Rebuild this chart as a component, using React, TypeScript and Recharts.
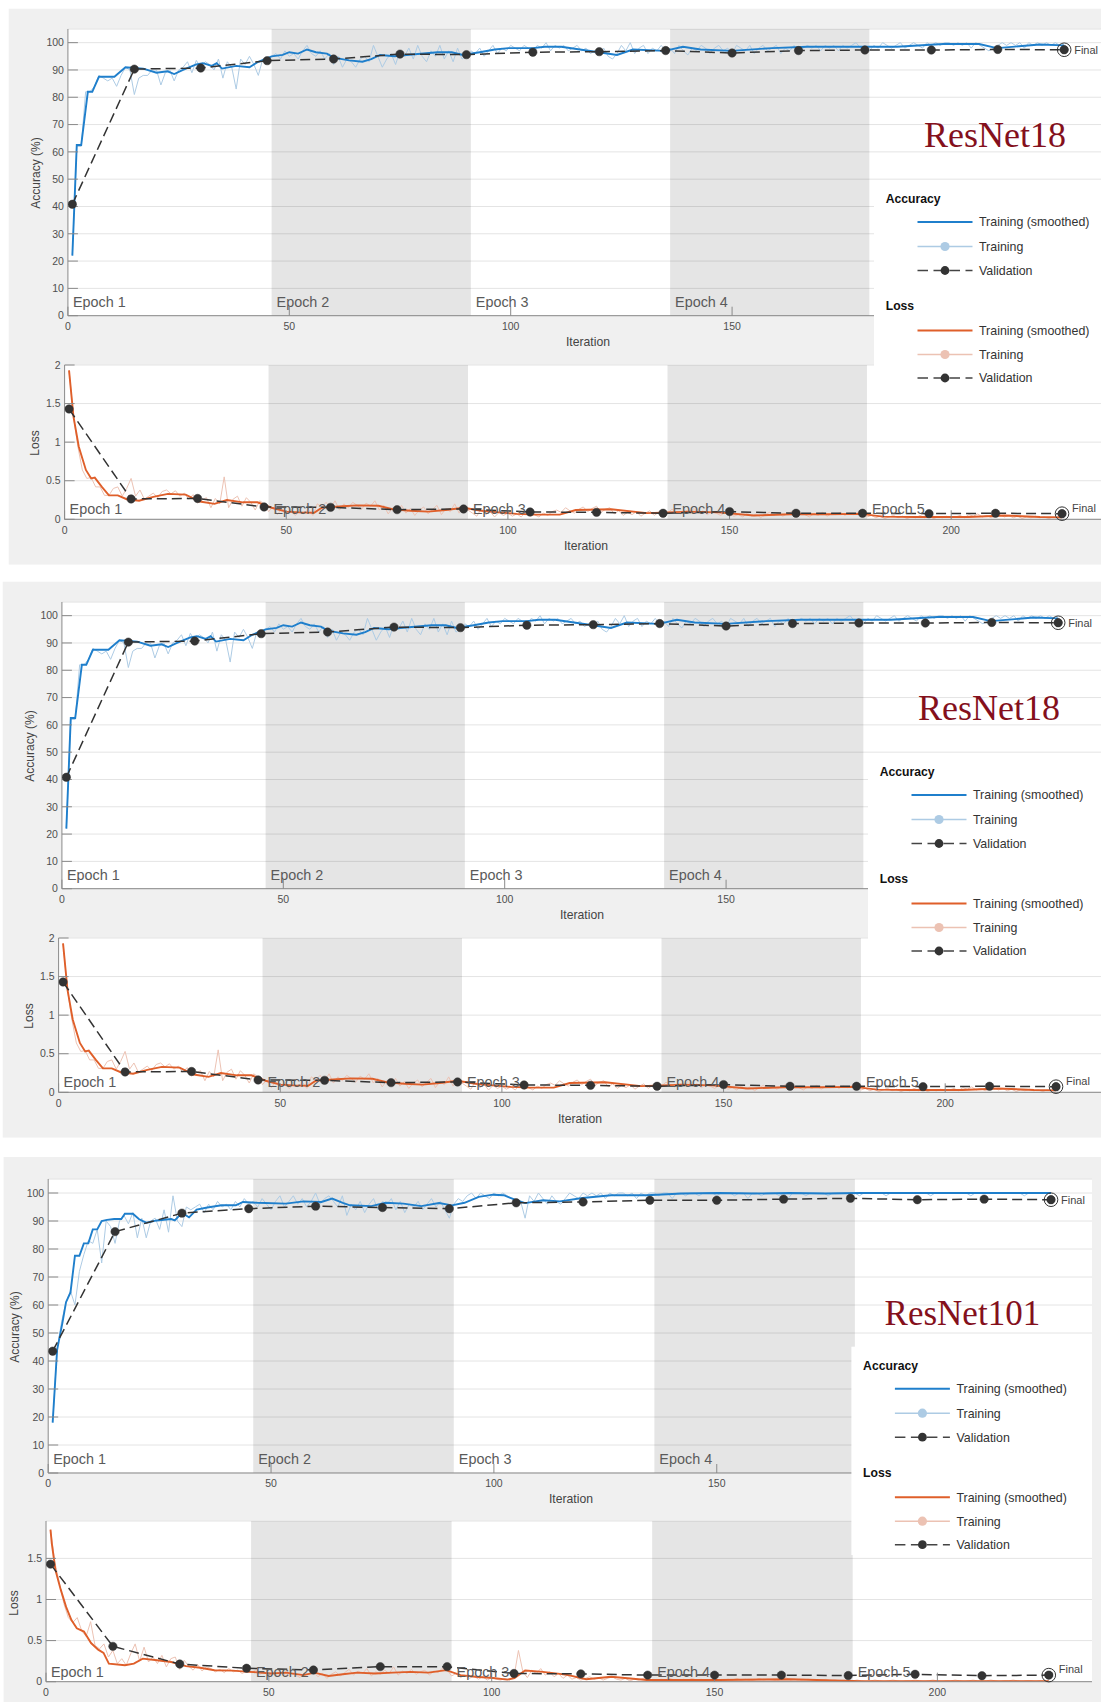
import React from 'react';
import { LineChart, Line, XAxis, YAxis, CartesianGrid, ReferenceArea, ReferenceDot } from 'recharts';

const FONT = '"Liberation Sans", Arial, Helvetica, sans-serif';
const SERIF = '"Liberation Serif", "Times New Roman", serif';

// ---------- categories / ticks / labels ----------
const VAL_ITERS = [1, 15, 30, 45, 60, 75, 90, 105, 120, 135, 150, 165, 180, 195, 210, 225];
const EPOCH_STARTS = [0, 46, 91, 136, 181];
const EPOCH_LABELS = ['Epoch 1', 'Epoch 2', 'Epoch 3', 'Epoch 4', 'Epoch 5'];
const SHADED_EPOCHS = [[46, 91], [136, 181]];
const X_TICKS = [0, 50, 100, 150, 200];
const ACC_TICKS = [0, 10, 20, 30, 40, 50, 60, 70, 80, 90, 100];
const LOSS_TICKS = [0, 0.5, 1, 1.5, 2];
const LOSS_TICKS_101 = [0, 0.5, 1, 1.5];
const TITLES = ['ResNet18', 'ResNet18', 'ResNet101'];
const LEGEND_GROUPS = ['Accuracy', 'Loss'];
const LEGEND_ITEMS = ['Training (smoothed)', 'Training', 'Validation'];
const FINAL_LABEL = 'Final';
const X_LABEL = 'Iteration';
const Y_LABELS = ['Accuracy (%)', 'Loss'];

// ---------- ResNet18 ----------
const ACC18_RAW = [
  22, 62, 62, 82, 82, 84, 88, 87, 86, 87, 84, 88, 91, 90, 81,
  87, 88, 88, 90, 90, 84.5, 89, 90, 86, 90, 91, 93, 89, 93.5, 91,
  93, 92, 90, 94, 87, 93, 91, 83, 94, 92, 95, 92, 88, 94, 93,
  95, 96, 94, 97, 95, 96, 94, 97, 99, 96, 95, 97, 94, 96, 92,
  95, 91, 94, 93, 91, 94, 95, 93, 99, 95, 91, 94, 96, 92, 97,
  95, 98, 94, 99, 95, 93, 97, 95, 99, 94, 97, 93, 98, 94, 95,
  97, 96, 98, 95, 97, 99, 96, 98, 97, 99, 98, 97, 99, 98, 96,
  99, 98, 100, 97, 99, 98, 99, 97, 98, 99, 97, 98, 96, 97, 96,
  98, 95, 94, 96, 99, 97, 100, 96, 98, 99, 96, 98, 97, 99, 97,
  98, 96, 99, 97, 95.5, 98, 97, 99, 98, 96, 98, 99, 97, 98, 96,
  99, 98, 97, 99, 96, 98, 99, 97, 98, 99, 96, 98, 97, 99, 95.5,
  98, 99, 98, 99, 97, 99, 98, 99, 97, 99, 98, 99, 100, 98, 99,
  97, 99, 98, 100, 99, 98, 99, 100, 98, 99, 100, 99, 98, 100, 99,
  100, 99, 100, 100, 99, 100, 99, 100, 98, 100, 99, 98, 97, 98, 99,
  100, 99, 100, 99, 100, 98, 100, 99, 100, 99, 100, 99, 100, 99, 99,
];
const ACC18_SMOOTH = [
  [1, 22], [2, 62.5], [3, 62.5], [4.5, 82], [5.5, 82], [7, 87.5], [10.5, 87.5], [13, 91], [17, 90.5],
  [20, 89], [22.5, 89.5], [24, 88.5], [26, 90], [29, 92], [30.5, 92.5], [32.5, 91.5], [33.6, 92.5],
  [34.8, 90.5], [38, 91.5], [41, 91], [43, 93], [46, 95], [48.5, 95.5], [50, 96.5], [52, 96], [54, 97.5],
  [56, 96.5], [58.5, 96], [60, 94.5], [63.5, 93.5], [66.5, 93], [68.5, 94], [70.5, 95.5], [73.8, 95],
  [76.5, 95.5], [83.5, 96.5], [86.7, 96.5], [89.2, 95.5], [93, 96.5], [96.4, 97.5], [99.5, 98], [105, 98],
  [107.7, 98.5], [111.4, 98.5], [119.9, 96.5], [124, 95.5], [127.6, 97.5], [134.8, 97], [138.9, 98.5],
  [142.9, 97.5], [149.9, 97], [159, 98], [167, 98.5], [179, 98.5], [187.2, 98.5], [197.7, 99.5],
  [205.8, 99.5], [209.8, 98], [219.5, 99.3], [225, 99],
];
const ACC18_VAL = [40.8, 90.3, 90.7, 93.4, 94.0, 95.8, 95.6, 96.5, 96.7, 97.1, 96.2, 97.1, 97.3, 97.3, 97.5, 97.4];

const LOSS18_RAW = [
  1.93, 1.33, 0.94, 0.64, 0.53, 0.54, 0.42, 0.42, 0.31, 0.31, 0.40, 0.42, 0.30, 0.40, 0.53,
  0.30, 0.38, 0.26, 0.30, 0.34, 0.28, 0.36, 0.38, 0.33, 0.37, 0.30, 0.34, 0.26, 0.32, 0.21,
  0.25, 0.28, 0.15, 0.27, 0.20, 0.55, 0.15, 0.26, 0.30, 0.17, 0.28, 0.22, 0.12, 0.24, 0.20,
  0.10, 0.16, 0.06, 0.14, 0.08, 0.12, 0.05, 0.10, 0.07, 0.13, 0.05, 0.20, 0.16, 0.22, 0.14,
  0.24, 0.12, 0.20, 0.15, 0.22, 0.18, 0.13, 0.21, 0.17, 0.24, 0.12, 0.18, 0.07, 0.15, 0.10,
  0.18, 0.08, 0.14, 0.05, 0.12, 0.16, 0.07, 0.13, 0.18, 0.06, 0.14, 0.10, 0.20, 0.08, 0.16,
  0.12, 0.08, 0.04, 0.14, 0.06, 0.10, 0.03, 0.09, 0.05, 0.08, 0.04, 0.07, 0.03, 0.09, 0.04,
  0.06, 0.03, 0.08, 0.05, 0.10, 0.12, 0.09, 0.15, 0.11, 0.08, 0.13, 0.16, 0.10, 0.14, 0.17,
  0.09, 0.13, 0.15, 0.07, 0.11, 0.05, 0.09, 0.06, 0.10, 0.04, 0.08, 0.11, 0.05, 0.09, 0.12,
  0.08, 0.13, 0.10, 0.07, 0.12, 0.09, 0.14, 0.08, 0.11, 0.06, 0.10, 0.08, 0.05, 0.09, 0.07,
  0.04, 0.06, 0.03, 0.08, 0.04, 0.07, 0.02, 0.06, 0.09, 0.05, 0.08, 0.04, 0.07, 0.10, 0.05,
  0.08, 0.06, 0.03, 0.07, 0.05, 0.09, 0.04, 0.07, 0.06, 0.09, 0.05, 0.08, 0.06, 0.09, 0.07,
  0.03, 0.05, 0.02, 0.04, 0.01, 0.03, 0.05, 0.02, 0.04, 0.01, 0.03, 0.02, 0.05, 0.02, 0.04,
  0.01, 0.03, 0.02, 0.04, 0.02, 0.03, 0.05, 0.02, 0.06, 0.04, 0.07, 0.03, 0.05, 0.02, 0.04,
  0.06, 0.03, 0.05, 0.02, 0.04, 0.01, 0.03, 0.02, 0.04, 0.02, 0.03, 0.01, 0.03, 0.02, 0.02,
];
const LOSS18_SMOOTH = [
  [1, 1.93], [2, 1.33], [3.2, 0.94], [4.8, 0.64], [6, 0.53], [6.8, 0.54], [8.4, 0.42], [10, 0.31],
  [12, 0.31], [14, 0.26], [16.8, 0.24], [20, 0.29], [23.3, 0.33], [27.3, 0.32], [30.5, 0.23],
  [33.8, 0.2], [36.6, 0.25], [40.2, 0.22], [43.5, 0.22], [46.7, 0.15], [50, 0.1], [53, 0.09],
  [56.3, 0.085], [58, 0.15], [62.8, 0.17], [66, 0.18], [70.8, 0.175], [74, 0.13], [78, 0.11],
  [82, 0.1], [86, 0.12], [90, 0.15], [94, 0.11], [98, 0.09], [102, 0.07], [106.3, 0.06], [111.7, 0.06],
  [115.3, 0.12], [123.3, 0.13], [131.4, 0.08], [141, 0.1], [147.5, 0.09], [155.5, 0.05], [163.6, 0.065],
  [171.7, 0.065], [179.7, 0.07], [184.6, 0.035], [191.8, 0.03], [203.9, 0.03], [212, 0.05], [220, 0.03],
  [225, 0.025],
];
const LOSS18_VAL = [1.43, 0.264, 0.27, 0.16, 0.155, 0.125, 0.134, 0.095, 0.09, 0.078, 0.10, 0.078, 0.078, 0.073, 0.078, 0.073];

// ---------- ResNet101 ----------
const ACC101_RAW = [
  18, 44, 54, 61, 65, 60, 72, 78, 83, 82, 87, 75, 90, 88, 82,
  90, 92, 89, 93, 84, 91, 84, 90, 91, 87, 94, 86, 99, 90, 88,
  95, 94, 95, 96, 93, 96, 94, 97, 95, 96, 94, 97, 95, 98, 96,
  97, 95, 98, 96, 94, 97, 99, 95, 97, 99, 96, 98, 95, 97, 100,
  96, 98, 99, 97, 95, 99, 92, 96, 94, 97, 93, 96, 98, 94, 97,
  96, 98, 94, 97, 93, 96, 95, 97, 94, 96, 98, 95, 97, 94, 91,
  96, 98, 97, 99, 100, 98, 100, 99, 98, 100, 99, 100, 99, 98, 96,
  97, 91, 99, 97, 100, 98, 96, 99, 97, 96, 98, 100, 99, 98, 100,
  99, 100, 99, 100, 98, 100, 99, 100, 100, 99, 100, 98, 100, 99, 100,
  100, 99, 100, 100, 98, 100, 100, 99, 100, 100, 99, 100, 100, 100, 99,
  100, 100, 100, 99, 100, 100, 98, 100, 100, 99, 100, 100, 100, 99, 100,
  98, 100, 100, 100, 99, 100, 100, 100, 100, 99, 100, 100, 100, 100, 100,
  100, 99, 100, 100, 100, 100, 100, 99, 100, 100, 100, 100, 100, 100, 100,
  100, 100, 99, 100, 100, 100, 100, 100, 100, 100, 100, 99, 100, 100, 100,
  100, 100, 100, 100, 100, 100, 100, 100, 99, 100, 100, 100, 100, 100, 100,
];
const ACC101_SMOOTH = [
  [1, 18], [2, 44], [3.2, 53.7], [4, 61], [5, 64.5], [6, 77.6], [7, 77.6], [8, 82], [9, 82], [10, 87],
  [11, 87], [12, 90], [13.2, 90.4], [14.8, 90.7], [16.4, 90.7], [17.2, 92.6], [19, 92.6], [20.4, 90.6],
  [22, 89.4], [24.4, 90.2], [27.6, 90.7], [28.4, 90.2], [30, 92.9], [31.6, 91.3], [33.3, 94.1],
  [35.7, 94.8], [38.9, 95.6], [42.1, 95.6], [43.7, 96.8], [46.9, 96.5], [53.3, 96.2], [57.3, 97],
  [61.3, 96.8], [63.7, 98], [66.1, 96.5], [67.7, 95.6], [72.5, 95.3], [75.7, 96.5], [79.7, 96.2],
  [83.7, 95.3], [87.7, 96.4], [90.6, 95.6], [93.4, 96.5], [96.6, 98.6], [99.8, 99.4], [102.2, 99.2],
  [104.6, 97.7], [107, 96.4], [111, 97.4], [114.8, 97], [119.9, 98.2], [126.3, 99.2], [134.3, 99.2],
  [142.3, 99.8], [150.4, 100], [158.4, 99.8], [166.4, 100], [174.4, 99.8], [182.4, 100], [198.4, 100],
  [214.5, 100], [225, 100],
];
const ACC101_VAL = [43.5, 86.2, 92.8, 94.4, 95.3, 94.8, 94.4, 96.5, 96.8, 97.4, 97.4, 97.8, 98.1, 97.6, 97.8, 97.6];

const LOSS101_RAW = [
  1.85, 1.45, 1.20, 0.95, 0.78, 0.72, 0.78, 0.62, 0.55, 0.73, 0.44, 0.40, 0.46, 0.30, 0.38,
  0.22, 0.28, 0.20, 0.34, 0.46, 0.25, 0.42, 0.24, 0.30, 0.22, 0.32, 0.18, 0.28, 0.30, 0.15,
  0.26, 0.19, 0.14, 0.21, 0.13, 0.18, 0.16, 0.12, 0.15, 0.11, 0.16, 0.12, 0.14, 0.10, 0.13,
  0.11, 0.14, 0.09, 0.12, 0.08, 0.11, 0.07, 0.12, 0.06, 0.10, 0.08, 0.05, 0.11, 0.09, 0.12,
  0.06, 0.10, 0.04, 0.09, 0.12, 0.07, 0.11, 0.15, 0.08, 0.13, 0.10, 0.16, 0.07, 0.12, 0.09,
  0.14, 0.10, 0.18, 0.08, 0.13, 0.10, 0.15, 0.09, 0.12, 0.14, 0.08, 0.13, 0.11, 0.17, 0.14,
  0.07, 0.10, 0.05, 0.08, 0.04, 0.07, 0.03, 0.06, 0.02, 0.05, 0.03, 0.02, 0.04, 0.02, 0.06,
  0.38, 0.12, 0.05, 0.14, 0.10, 0.16, 0.08, 0.12, 0.06, 0.10, 0.04, 0.08, 0.03, 0.05, 0.02,
  0.04, 0.06, 0.03, 0.05, 0.02, 0.04, 0.06, 0.03, 0.02, 0.04, 0.01, 0.03, 0.02, 0.04, 0.02,
  0.03, 0.01, 0.03, 0.02, 0.04, 0.02, 0.01, 0.03, 0.02, 0.04, 0.02, 0.03, 0.01, 0.02, 0.03,
  0.02, 0.01, 0.03, 0.02, 0.04, 0.02, 0.03, 0.01, 0.02, 0.04, 0.02, 0.03, 0.02, 0.01, 0.03,
  0.05, 0.02, 0.03, 0.01, 0.02, 0.03, 0.02, 0.01, 0.02, 0.03, 0.01, 0.02, 0.01, 0.02, 0.01,
  0.01, 0.02, 0.01, 0.00, 0.01, 0.02, 0.01, 0.00, 0.01, 0.02, 0.01, 0.00, 0.01, 0.01, 0.02,
  0.01, 0.00, 0.01, 0.02, 0.01, 0.00, 0.01, 0.01, 0.02, 0.01, 0.00, 0.01, 0.02, 0.01, 0.00,
  0.01, 0.02, 0.01, 0.00, 0.01, 0.01, 0.02, 0.01, 0.00, 0.01, 0.01, 0.00, 0.01, 0.01, 0.01,
];
const LOSS101_SMOOTH = [
  [1, 1.85], [1.3, 1.68], [2.1, 1.36], [3.3, 1.12], [4.5, 0.91], [5.7, 0.75], [6.9, 0.65], [8.5, 0.61],
  [10.1, 0.47], [11.7, 0.39], [12.9, 0.35], [14.1, 0.22], [17.7, 0.2], [19.7, 0.22], [21.7, 0.28],
  [24.9, 0.26], [28.1, 0.24], [31.4, 0.19], [34.6, 0.17], [37.8, 0.14], [41.8, 0.135], [45.8, 0.12],
  [50.6, 0.1], [53.8, 0.11], [57.8, 0.08], [60.2, 0.11], [63.4, 0.07], [66.6, 0.09], [69.8, 0.11],
  [73.8, 0.1], [77.8, 0.11], [81.8, 0.12], [85.8, 0.11], [89.8, 0.14], [93, 0.08], [96.3, 0.06],
  [100.3, 0.045], [103.5, 0.025], [105.1, 0.045], [107.5, 0.135], [111.5, 0.12], [115.3, 0.095],
  [117.2, 0.08], [121.2, 0.03], [126.8, 0.06], [134.8, 0.02], [150.9, 0.02], [166.9, 0.03],
  [182.9, 0.005], [198.9, 0.005], [225, 0.005],
];
const LOSS101_VAL = [1.43, 0.43, 0.215, 0.163, 0.142, 0.183, 0.183, 0.10, 0.095, 0.08, 0.08, 0.08, 0.075, 0.09, 0.073, 0.08];

// ---------- colours ----------
const ACC_SMOOTH_C = '#1f7fcc';
const ACC_RAW_C = '#adcbe4';
const LOSS_SMOOTH_C = '#df5f2a';
const LOSS_RAW_C = '#ecc2b3';
const VAL_C = '#333333';
const AXIS_C = '#8a8a8a';
const GRID_C = '#e4e4e4';
const PANEL_BG = '#f0f0f0';
const TITLE_C = '#84101c';

type Pt = { x: number; y: number };
const fromRaw = (v: number[]): Pt[] => v.map((y, i) => ({ x: i + 1, y }));
const fromPairs = (p: number[][]): Pt[] => p.map(([x, y]) => ({ x, y }));
const fromVal = (v: number[]): Pt[] => v.map((y, i) => ({ x: VAL_ITERS[i], y }));

interface Cfg {
  left: number; top: number; bottom: number; right: number; ppi: number;
  yDomain: [number, number]; yTicks: number[];
  raw: Pt[]; smooth: Pt[]; val: Pt[];
  rawColor: string; smoothColor: string; epochDy: number; finalDy: number; epochCount: number;
}

function Subplot({ cfg }: { cfg: Cfg }) {
  const PAD = 12;
  const XH = 30;
  const chartTop = cfg.top - PAD;
  const height = cfg.bottom - chartTop + XH;
  const width = cfg.right;
  const xMax = (cfg.right - cfg.left) / cfg.ppi;
  const last = cfg.val[cfg.val.length - 1];
  const tickStyle = { fill: '#4f4f4f', fontSize: 10.5, fontFamily: FONT };
  return (
    <div style={{ position: 'absolute', left: 0, top: chartTop, width, height }}>
      <LineChart width={width} height={height} margin={{ top: PAD, right: 0, bottom: 0, left: 0 }}>
        <CartesianGrid horizontal vertical={false} stroke={GRID_C} />
        {SHADED_EPOCHS.map(([a, b]) => (
          <ReferenceArea key={'s' + a} x1={a} x2={b} fill="#000" fillOpacity={0.1} stroke="none" ifOverflow="visible" />
        ))}
        <XAxis type="number" dataKey="x" domain={[0, xMax]} ticks={X_TICKS} interval={0}
          tickSize={-9} tickMargin={16} height={XH} stroke={AXIS_C} tickLine={{ stroke: AXIS_C }}
          tick={tickStyle} allowDataOverflow />
        <YAxis type="number" domain={cfg.yDomain} ticks={cfg.yTicks} interval={0} width={cfg.left}
          tickSize={-10} tickMargin={14} stroke={AXIS_C} tickLine={{ stroke: AXIS_C }}
          tick={tickStyle} allowDataOverflow />
        <Line data={cfg.raw} dataKey="y" type="linear" stroke={cfg.rawColor} strokeWidth={1}
          dot={false} activeDot={false} isAnimationActive={false} />
        <Line data={cfg.smooth} dataKey="y" type="linear" stroke={cfg.smoothColor} strokeWidth={1.9}
          dot={false} activeDot={false} isAnimationActive={false} />
        <Line data={cfg.val} dataKey="y" type="linear" stroke={VAL_C} strokeWidth={1.5} strokeDasharray="10 5"
          dot={{ r: 4.2, fill: VAL_C, stroke: VAL_C, strokeWidth: 0.5, strokeDasharray: '0' }}
          activeDot={false} isAnimationActive={false} />
        {EPOCH_STARTS.slice(0, cfg.epochCount).map((s, i) => (
          <ReferenceDot key={'e' + i} x={s} y={cfg.yDomain[0]} ifOverflow="visible"
            shape={(p: any) => (
              <text x={p.cx + 5} y={p.cy - cfg.epochDy} fill="#5a5a5a" fontSize={14.4} fontFamily={FONT}>
                {EPOCH_LABELS[i]}
              </text>
            )} />
        ))}
        <ReferenceDot x={last.x} y={last.y} ifOverflow="visible"
          shape={(p: any) => (
            <g>
              <circle cx={p.cx} cy={p.cy} r={6.8} fill="none" stroke={VAL_C} strokeWidth={1} />
              <circle cx={p.cx} cy={p.cy} r={4.2} fill={VAL_C} />
              <text x={p.cx + 10} y={p.cy + 4 - cfg.finalDy} fill="#444" fontSize={11} fontFamily={FONT}>
                {FINAL_LABEL}
              </text>
            </g>
          )} />
      </LineChart>
    </div>
  );
}

const P1_ACC: Cfg = {
  left: 67.9, top: 29.3, bottom: 316, right: 1101, ppi: 4.428, yDomain: [0, 105], yTicks: ACC_TICKS,
  raw: fromRaw(ACC18_RAW), smooth: fromPairs(ACC18_SMOOTH), val: fromVal(ACC18_VAL),
  rawColor: ACC_RAW_C, smoothColor: ACC_SMOOTH_C, epochDy: 9, finalDy: 0, epochCount: 4,
};
const P1_LOSS: Cfg = {
  left: 64.6, top: 365, bottom: 519.3, right: 1101, ppi: 4.433, yDomain: [0, 2], yTicks: LOSS_TICKS,
  raw: fromRaw(LOSS18_RAW), smooth: fromPairs(LOSS18_SMOOTH), val: fromVal(LOSS18_VAL),
  rawColor: LOSS_RAW_C, smoothColor: LOSS_SMOOTH_C, epochDy: 5, finalDy: 6, epochCount: 5,
};
const P2_ACC: Cfg = { ...P1_ACC, left: 61.9, top: 602.3, bottom: 889 };
const P2_LOSS: Cfg = { ...P1_LOSS, left: 58.6, top: 938, bottom: 1092.3 };
const P3_ACC: Cfg = {
  left: 48.2, top: 1179.3, bottom: 1473.3, right: 1092, ppi: 4.457, yDomain: [0, 105], yTicks: ACC_TICKS,
  raw: fromRaw(ACC101_RAW), smooth: fromPairs(ACC101_SMOOTH), val: fromVal(ACC101_VAL),
  rawColor: ACC_RAW_C, smoothColor: ACC_SMOOTH_C, epochDy: 9, finalDy: 0, epochCount: 4,
};
const P3_LOSS: Cfg = {
  left: 46, top: 1521, bottom: 1681.7, right: 1092, ppi: 4.457, yDomain: [0, 1.955], yTicks: LOSS_TICKS_101,
  raw: fromRaw(LOSS101_RAW), smooth: fromPairs(LOSS101_SMOOTH), val: fromVal(LOSS101_VAL),
  rawColor: LOSS_RAW_C, smoothColor: LOSS_SMOOTH_C, epochDy: 5, finalDy: 6, epochCount: 5,
};
const SUBPLOTS = [P1_ACC, P1_LOSS, P2_ACC, P2_LOSS, P3_ACC, P3_LOSS];

const PANELS = [
  { x: 8.7, y: 8.7, w: 1092.3, h: 555.9 },
  { x: 2.7, y: 581.7, w: 1098.3, h: 555.9 },
  { x: 3.6, y: 1157, w: 1097.4, h: 545 },
];

const LEGENDS = [
  { x: 874, y: 180, w: 227, h: 210 },
  { x: 868, y: 753, w: 233, h: 210 },
  { x: 851.4, y: 1346.7, w: 240.6, h: 208.3 },
];

const TEXTS = [
  { title: { x: 924, y: 147, size: 36 }, yl: [[35.7, 173], [35, 443]], xl: [[588, 346], [586, 550]] },
  { title: { x: 918, y: 720, size: 36 }, yl: [[29.7, 746], [29, 1016]], xl: [[582, 919], [580, 1123]] },
  { title: { x: 884.6, y: 1325, size: 35 }, yl: [[15, 1327], [14.3, 1603]], xl: [[571, 1503]] },
];

function LegendBox({ x, y, w, h }: { x: number; y: number; w: number; h: number }) {
  const sx1 = x + 43.5;
  const sx2 = x + 98.5;
  const mx = (sx1 + sx2) / 2;
  const tx = x + 105;
  const groups = [
    { name: LEGEND_GROUPS[0], dy: 18.7, sm: ACC_SMOOTH_C, raw: ACC_RAW_C, rows: [42, 66.5, 90.5] },
    { name: LEGEND_GROUPS[1], dy: 126, sm: LOSS_SMOOTH_C, raw: LOSS_RAW_C, rows: [150.5, 174.5, 198] },
  ];
  return (
    <g>
      <rect x={x} y={y} width={w} height={h} fill="#fff" />
      {groups.map((g) => (
        <g key={g.name}>
          <text x={x + 11.7} y={y + g.dy + 4.3} fontSize={12.2} fontWeight="bold" fill="#111" fontFamily={FONT}>{g.name}</text>
          {g.rows.map((r, i) => {
            const cy = y + r;
            return (
              <g key={i}>
                {i === 0 && <line x1={sx1} x2={sx2} y1={cy} y2={cy} stroke={g.sm} strokeWidth={2} />}
                {i === 1 && (
                  <g>
                    <line x1={sx1} x2={sx2} y1={cy} y2={cy} stroke={g.raw} strokeWidth={1.6} />
                    <circle cx={mx} cy={cy} r={4.6} fill={g.raw} />
                  </g>
                )}
                {i === 2 && (
                  <g>
                    <line x1={sx1} x2={sx2} y1={cy} y2={cy} stroke="#444" strokeWidth={1.6} strokeDasharray="10.5 5.5" />
                    <circle cx={mx} cy={cy} r={4.4} fill={VAL_C} />
                  </g>
                )}
                <text x={tx} y={cy + 4.4} fontSize={12.4} fill="#333" fontFamily={FONT}>{LEGEND_ITEMS[i]}</text>
              </g>
            );
          })}
        </g>
      ))}
    </g>
  );
}

export default function App() {
  return (
    <div style={{ position: 'absolute', left: 0, top: 0, width: 1101, height: 1702, overflow: 'hidden', background: '#fff' }}>
      <svg style={{ position: 'absolute', left: 0, top: 0 }} width={1101} height={1702}>
        <rect x={0} y={0} width={1101} height={1702} fill="#fff" />
        {PANELS.map((p, i) => (
          <rect key={i} x={p.x} y={p.y} width={p.w} height={p.h} fill={PANEL_BG} />
        ))}
        {SUBPLOTS.map((c, i) => (
          <rect key={'w' + i} x={c.left} y={c.top} width={c.right - c.left} height={c.bottom - c.top} fill="#fff" />
        ))}
      </svg>
      {SUBPLOTS.map((c, i) => (
        <Subplot key={i} cfg={c} />
      ))}
      <svg style={{ position: 'absolute', left: 0, top: 0, pointerEvents: 'none' }} width={1101} height={1702}>
        {LEGENDS.map((l, i) => (
          <LegendBox key={i} {...l} />
        ))}
        {TEXTS.map((t, i) => (
          <g key={i}>
            <text x={t.title.x} y={t.title.y} fontSize={t.title.size} fill={TITLE_C} fontFamily={SERIF}>{TITLES[i]}</text>
            {t.yl.map(([x, y], j) => (
              <text key={'y' + j} transform={`translate(${x},${y}) rotate(-90)`} textAnchor="middle"
                dominantBaseline="central" fontSize={12} fill="#444" fontFamily={FONT}>{Y_LABELS[j]}</text>
            ))}
            {t.xl.map(([x, y], j) => (
              <text key={'x' + j} x={x} y={y} textAnchor="middle" fontSize={12.2} fill="#444" fontFamily={FONT}>{X_LABEL}</text>
            ))}
          </g>
        ))}
      </svg>
    </div>
  );
}
